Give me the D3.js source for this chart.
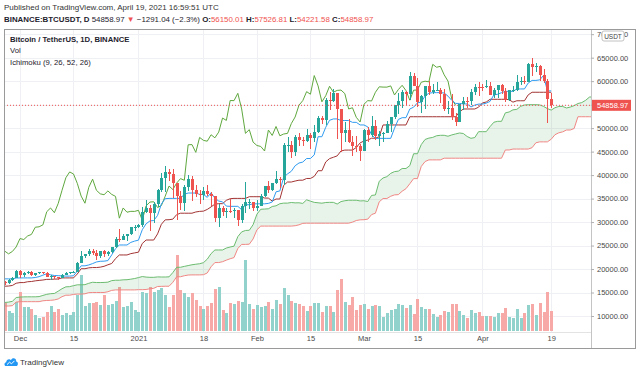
<!DOCTYPE html>
<meta charset="utf-8">
<style>
body { margin: 0; background: #fff; }
svg text { font-family: "Liberation Sans", Arial, sans-serif; }
.axis .domain { display: none; }
.axis text { fill: #4a4a4a; font-size: 7.5px; }
.axis line { stroke: #b0b0b0; }
</style>
<svg id="chart" width="640" height="372"></svg>
<script src="https://d3js.org/d3.v7.min.js"></script>
<script>

// daily bars, BINANCE:BTCUSDT, first bar 2020-11-27
var firstDay = Date.UTC(2020, 10, 27);
var dayMs = 864e5;

var openP = [
  17150,17130,17720,18180,19625,18800,19200,19440,18700,19150,
  19360,19170,18320,18550,18250,18040,18800,19170,19270,19430,
  21340,22800,23130,23860,23480,22730,23820,23240,23730,24700,
  26490,26280,27040,27370,28900,28990,29410,32200,33000,31990,
  33950,36770,39430,40670,40240,38240,35540,34010,37390,39140,
  36770,36010,35820,36630,35890,35470,30830,33000,32100,32280,
  32270,32500,30400,33460,34260,34320,33100,33520,35510,37670,
  36930,38310,39250,38900,46450,46500,44840,48020,47400,47220,
  48590,47940,49160,52150,51640,55890,55850,57410,54090,48890,
  49680,47020,46300,46100,45130,49590,48440,50350,48370,48750,
  48880,50970,52380,54880,55860,57770,57220,61190,59000,55600,
  56900,58910,57650,58030,58100,57350,54080,54340,52300,51300,
  55070,55860,55780,57630,58800,58740,58730,58990,57060,58210,
  59120,57990,55950,58080,58120,59770,59990,59860,63580,62960,
  63160,61340,60010,56150.01
];
var highP = [
  17460,17880,18330,19860,19890,19340,19600,19510,19170,19420,
  19420,19300,18640,18560,18290,18950,19410,19350,19570,21560,
  23800,23280,24170,24300,24100,23840,24100,23800,24790,26870,
  28420,27500,27410,28990,29300,29600,33300,34780,33600,34360,
  36940,40370,41950,41380,41350,38260,36630,37850,40100,39750,
  37950,36850,37470,37850,36420,35600,33830,33460,32940,34880,
  32920,32560,33780,38530,34940,34330,34720,35980,37700,38710,
  38320,40960,39700,46790,48200,47300,48630,48980,48150,49710,
  49000,50620,52620,52550,56370,57770,58350,57530,54180,51370,
  52040,48390,48290,46650,49790,50200,52640,51770,49450,49200,
  51450,52400,54900,57390,58150,58000,61850,61680,60630,56950,
  58980,60090,59450,59880,58600,58430,55830,57200,53240,55100,
  56640,56570,58400,59370,59800,59490,60200,59800,58500,59290,
  59480,58650,58150,58870,61220,60790,61200,63770,64850,63800,
  63520,62500,60400,57526.81
];
var lowP = [
  16500,16865,17500,18180,18100,18330,18870,18570,18500,18860,
  18900,18200,17650,17910,17570,18020,18700,19000,19050,19290,
  21230,22350,22750,23060,21820,22350,22600,22700,23430,24500,
  25700,26100,25880,27320,28000,28800,28950,31960,28130,29900,
  33290,36300,36500,38720,35110,30420,32530,32380,36700,34410,
  35360,33850,34800,35500,33400,30070,28850,31390,30900,31910,
  30840,29240,29840,31920,32860,32300,32300,33420,35360,36160,
  36570,38130,37350,37990,45000,43730,43990,46250,46200,47050,
  45570,47000,48950,50880,50700,53860,55480,47620,44890,47000,
  46880,44110,45000,43000,45040,47050,48100,47500,46300,47070,
  48880,49270,51850,53000,54270,55000,56080,58960,54600,53270,
  54120,57020,57250,57820,55450,53650,53000,51700,50430,51200,
  53950,54240,54900,57000,56770,57930,58450,56960,56480,56480,
  57300,55470,55700,57600,57880,59200,59370,59840,61000,62020,
  60000,59590,51000,54221.58
];
var closeP = [
  17130,17720,18180,19625,18800,19200,19440,18700,19150,19360,
  19170,18320,18550,18250,18040,18800,19170,19270,19430,21340,
  22800,23130,23860,23480,22730,23820,23240,23730,24700,26490,
  26280,27040,27370,28900,28990,29410,32200,33000,31990,33950,
  36770,39430,40670,40240,38240,35540,34010,37390,39140,36770,
  36010,35820,36630,35890,35470,30830,33000,32100,32280,32270,
  32500,30400,33460,34260,34320,33100,33520,35510,37670,36930,
  38310,39250,38900,46450,46500,44840,48020,47400,47220,48590,
  47940,49160,52150,51640,55890,55850,57410,54090,48890,49680,
  47020,46300,46100,45130,49590,48440,50350,48370,48750,48880,
  50970,52380,54880,55860,57770,57220,61190,59000,55600,56900,
  58910,57650,58030,58100,57350,54080,54340,52300,51300,55070,
  55860,55780,57630,58800,58740,58730,58990,57060,58210,59120,
  57990,55950,58080,58120,59770,59990,59860,63580,62960,63160,
  61340,60010,56150,54858.97
];
// volume, thousand BTC
var volumeK = [
  90,66,57,95,128,79,77,70,52,41,
  47,63,81,63,70,52,57,52,63,117,
  182,81,90,90,95,85,117,85,88,99,
  144,79,81,95,68,63,128,125,144,128,
  133,139,117,79,117,247,133,125,111,122,
  101,81,70,81,90,135,144,68,60,92,
  87,98,95,231,88,72,85,79,81,94,
  70,101,88,139,117,99,92,88,81,65,
  81,92,90,63,81,81,63,133,168,94,
  85,112,68,85,87,70,81,85,81,47,
  57,68,73,87,85,76,85,55,104,79,
  72,70,55,47,51,65,62,87,88,65,
  52,41,68,57,63,49,49,49,44,57,
  57,74,47,42,72,42,57,85,87,52,
  92,62,126,65
];

// Ichimoku (9, 26, 52, 26), same bars as above
var conversionLine = [
  17905,17905,17905,18095,18110,18110,18110,18110,18195,18378,
  18695,18995,18770,18625,18585,18540,18495,18495,18570,19565,
  20685,20685,20870,21160,21500,21650,21675,21795,23010,24345,
  25120,25120,25120,25670,25950,26150,28365,29640,30240,30330,
  31410,33845,34975,35040,35040,35040,35040,35925,36185,36185,
  36185,35900,35885,35260,36240,35085,34475,34300,33400,33350,
  33350,33350,32635,33690,33690,33885,33885,33885,33885,33975,
  34275,36440,36630,39545,40250,40810,41995,42570,42775,43530,
  43530,44305,48175,48175,50180,51670,51960,51960,51620,51620,
  51620,51230,51230,50675,50675,50265,48590,47820,47820,47820,
  47820,47820,49970,51845,52225,52225,54075,54460,55365,55560,
  56850,57425,57560,57560,57560,57475,56815,55895,55260,55260,
  55155,55155,54515,54900,55115,55115,55315,55700,57075,57220,
  57550,57835,57835,57835,58345,58345,58345,59620,60160,60160,
  60275,61225,57925,57925
];
var baseLine = [
  16340,16380,16500,16975,17115,17115,17295,17345,17485,17580,
  17665,17800,17800,17845,17880,18110,18110,18110,18110,18945,
  20065,20065,20250,20315,20315,20400,20583,20900,21180,22220,
  22995,22995,22995,23280,23435,23585,25435,26175,26175,26175,
  27480,29535,30475,30500,30620,31590,31885,31885,31885,31885,
  32150,32275,32325,32690,33225,33825,33915,33915,34635,34975,
  35040,35040,35040,35040,35400,35400,35400,35400,35115,35100,
  34475,34905,34905,37820,38525,38525,38740,38915,38915,39280,
  39280,39735,40930,40930,42805,43505,43795,44095,45135,45325,
  45325,45325,45885,46855,47255,47460,47850,47850,48170,50675,
  50675,50675,50675,50675,50675,50675,52425,52425,52425,52425,
  52425,52425,52425,52425,52425,52425,52425,52425,52425,53445,
  54075,54075,54075,54075,54460,55365,55560,56140,56140,56140,
  56140,56140,56055,55530,55825,55825,55825,57100,57640,57640,
  57640,57640,57640,57640
];
// leading spans as plotted, from the first bar onward (runs 12 days past the last bar)
var leadA = [
  12878,12955,13123,13920,14030,14070,14085,14085,14085,14135,
  14380,14613,14748,14798,15285,15810,16205,16253,16460,16638,
  16638,16675,16963,17180,17123,17123,17143,17203,17535,17613,
  17613,17703,17728,17840,17979,18180,18398,18285,18235,18233,
  18325,18303,18303,18340,19255,20375,20375,20560,20738,20908,
  21025,21129,21348,22095,23283,24058,24058,24058,24475,24693,
  24868,26900,27908,28208,28253,29445,31690,32725,32770,32830,
  33315,33463,33905,34035,34035,34168,34088,34105,33975,34733,
  34455,34195,34108,34018,34163,34195,34195,33838,34365,34545,
  34643,34643,34643,34500,34538,34375,35673,35768,38683,39388,
  39668,40368,40743,40845,41405,41405,42020,44553,44553,46493,
  47588,47878,48028,48378,48473,48473,48278,48558,48765,48965,
  48863,48220,47835,47995,49248,49248,49248,50323,51260,51450,
  51450,53250,53443,53895,53993,54638,54925,54993,54993,54993,
  54950,54620,54160,53843,54353,54615,54615,54295,54488,54788,
  55240,55438,55920,56608,56680,56845
];
var leadB = [
  12120,12120,12200,12955,13050,13050,13050,13050,13050,13055,
  13240,13310,13340,13425,13625,14115,14425,14425,14590,14665,
  14665,14730,14970,15005,15005,15005,15005,15160,15455,15555,
  15555,15555,15555,15555,15555,15605,15605,15645,15790,15890,
  16285,16305,16335,16335,17170,18360,18360,18575,18720,18750,
  18750,18750,18790,19155,20480,21380,21380,21560,21895,22190,
  22435,24370,25245,25245,25290,26405,28350,29140,29140,29140,
  29140,29140,29140,29140,29140,29140,29225,29408,29725,29760,
  29760,29760,29760,29760,29760,29760,29760,29760,29760,29760,
  29760,29985,30325,30475,30500,30620,31590,31885,34305,35010,
  35010,35490,35790,35840,36570,37105,38160,39250,39250,41845,
  42885,43240,43240,43240,43240,43600,43600,43600,43600,43600,
  43600,43600,43600,43600,43600,43600,43600,43600,43600,43600,
  43600,45350,45350,45545,45545,45545,45545,45545,45845,46885,
  47075,47075,47075,47635,48605,49005,49210,49600,49600,49920,
  52425,52425,52425,52425,52425,52425
];
var laggingShift = 25;

var priceTicks = [10000,15000,20000,25000,30000,35000,40000,45000,50000,55000,60000,65000,70000];
var dateTicks = ["2020-12-01","2020-12-15","2021-01-01","2021-01-18","2021-02-01","2021-02-15","2021-03-01","2021-03-15","2021-04-01","2021-04-19"];
var dateLabels = ["Dec","15","2021","18","Feb","15","Mar","15","Apr","19"];
var lastPrice = 54858.97;

var upColor = "#26a69a", downColor = "#ef5350";

var svg = d3.select("#chart");
var plot = {left: 4, right: 591, top: 29, bottom: 332};

var x = d3.scaleUtc()
    .domain([new Date(firstDay), new Date(Date.UTC(2021, 3, 19))])
    .range([4.7, 551.2]);
var y = d3.scaleLinear().domain([10000, 70000]).range([316, 34.2]);
var yVol = d3.scaleLinear().domain([0, 250]).range([331, 254]);

function dayX(i) { return x(new Date(firstDay + i * dayMs)); }

svg.append("rect").attr("width", 640).attr("height", 372).attr("fill", "#fff");

svg.append("defs").append("clipPath").attr("id", "plotClip")
  .append("rect")
    .attr("x", plot.left).attr("y", plot.top)
    .attr("width", plot.right - plot.left).attr("height", plot.bottom - plot.top);

// grid
var grid = svg.append("g").attr("stroke", "#eef0f3").attr("shape-rendering", "crispEdges");
grid.selectAll("line.h").data(priceTicks).enter().append("line")
    .attr("x1", plot.left).attr("x2", plot.right)
    .attr("y1", function(d) { return Math.round(y(d)) + 0.5; })
    .attr("y2", function(d) { return Math.round(y(d)) + 0.5; });
grid.selectAll("line.v").data(dateTicks).enter().append("line")
    .attr("x1", function(d) { return Math.round(x(new Date(d))) + 0.5; })
    .attr("x2", function(d) { return Math.round(x(new Date(d))) + 0.5; })
    .attr("y1", plot.top).attr("y2", plot.bottom);

var g = svg.append("g").attr("clip-path", "url(#plotClip)");

// volume
g.append("g").attr("shape-rendering", "crispEdges")
  .selectAll("rect")
  .data(volumeK)
  .enter().append("rect")
    .attr("x", function(d, i) { return Math.round(dayX(i)) - 1; })
    .attr("width", 3)
    .attr("y", function(d) { return yVol(d); })
    .attr("height", function(d) { return yVol(0) - yVol(d); })
    .attr("fill", function(d, i) { return closeP[i] >= openP[i] ? "#92d2cc" : "#f7a9a7"; });

// ichimoku cloud
var cloud = leadA.map(function(a, i) { return {i: i, a: a, b: leadB[i]}; });
g.append("path")
    .datum(cloud)
    .attr("fill", "rgba(67,160,71,0.12)")
    .attr("d", d3.area()
      .x(function(d) { return dayX(d.i); })
      .y0(function(d) { return y(d.b); })
      .y1(function(d) { return y(d.a); }));

function drawLine(values, color, offset) {
  g.append("path")
      .datum(values)
      .attr("fill", "none")
      .attr("stroke", color)
      .attr("stroke-width", 1)
      .attr("d", d3.line()
        .x(function(d, i) { return dayX(i + offset); })
        .y(function(d) { return y(d); }));
}
drawLine(leadA, "#6cbc70", 0);
drawLine(leadB, "#f08784", 0);
drawLine(closeP.slice(laggingShift), "#5fa83e", 0);
drawLine(baseLine, "#a33434", 0);
drawLine(conversionLine, "#2f9bf0", 0);

// candles
var candles = g.append("g").attr("shape-rendering", "crispEdges")
  .selectAll("g")
  .data(closeP)
  .enter().append("g")
    .attr("fill", function(d, i) { return d >= openP[i] ? upColor : downColor; })
    .attr("stroke", function(d, i) { return d >= openP[i] ? upColor : downColor; });
candles.append("line")
    .attr("x1", function(d, i) { return Math.round(dayX(i)) + 0.5; })
    .attr("x2", function(d, i) { return Math.round(dayX(i)) + 0.5; })
    .attr("y1", function(d, i) { return y(highP[i]); })
    .attr("y2", function(d, i) { return y(lowP[i]); });
candles.append("rect")
    .attr("stroke", "none")
    .attr("x", function(d, i) { return Math.round(dayX(i)) - 1; })
    .attr("width", 3)
    .attr("y", function(d, i) { return y(Math.max(d, openP[i])); })
    .attr("height", function(d, i) { return Math.max(1, Math.abs(y(d) - y(openP[i]))); });

// last price line
g.append("line")
    .attr("x1", plot.left).attr("x2", plot.right)
    .attr("y1", y(lastPrice)).attr("y2", y(lastPrice))
    .attr("stroke", downColor).attr("stroke-dasharray", "1,2");

// legend inside the pane
var legend = svg.append("g").attr("fill", "#1e222d").attr("font-size", "7.7px");
legend.append("text").attr("x", 10).attr("y", 41.5).attr("font-weight", "bold").text("Bitcoin / TetherUS, 1D, BINANCE");
legend.append("text").attr("x", 10).attr("y", 53).text("Vol");
legend.append("text").attr("x", 10).attr("y", 64.5).text("Ichimoku (9, 26, 52, 26)");

// axes
svg.append("line").attr("x1", plot.left).attr("x2", plot.right)
    .attr("y1", plot.bottom + 0.5).attr("y2", plot.bottom + 0.5).attr("stroke", "#e3e3e3");
svg.append("line").attr("x1", plot.right + 0.5).attr("x2", plot.right + 0.5)
    .attr("y1", plot.top).attr("y2", 348).attr("stroke", "#c4c4c4");

svg.append("g")
    .attr("class", "axis")
    .attr("transform", "translate(" + plot.right + ",0)")
    .call(d3.axisRight(y).tickValues(priceTicks).tickFormat(d3.format(".2f")).tickSize(3).tickPadding(3));

svg.append("g")
    .attr("class", "axis")
    .attr("transform", "translate(0," + plot.bottom + ")")
    .call(d3.axisBottom(x)
      .tickValues(dateTicks.map(function(d) { return new Date(d); }))
      .tickFormat(function(d, i) { return dateLabels[i]; })
      .tickSize(0).tickPadding(4));

// last price badge
svg.append("rect").attr("x", 592).attr("y", y(lastPrice) - 5.5).attr("width", 39).attr("height", 11).attr("fill", downColor);
svg.append("text").attr("x", 597).attr("y", y(lastPrice) + 2.7).attr("fill", "#fff").attr("font-size", "7.5px").text(d3.format(".2f")(lastPrice));

// currency button
svg.append("rect").attr("x", 602).attr("y", 31).attr("width", 22).attr("height", 10).attr("rx", 2)
    .attr("fill", "#fff").attr("stroke", "#c2c2c2");
svg.append("text").attr("x", 613).attr("y", 38.6).attr("text-anchor", "middle")
    .attr("font-size", "6.5px").attr("fill", "#444").text("USDT");

// frame
svg.append("rect").attr("x", 4.5).attr("y", 29.5).attr("width", 631).attr("height", 319)
    .attr("fill", "none").attr("stroke", "#9a9a9a");

// header
svg.append("text").attr("x", 4).attr("y", 10).attr("font-size", "8px").attr("fill", "#333")
    .text("Published on TradingView.com, April 19, 2021 16:59:51 UTC");
var head = svg.append("text").attr("x", 4).attr("y", 21.5).attr("font-size", "7.9px").attr("fill", "#1e222d");
head.append("tspan").attr("font-weight", "bold").text("BINANCE:BTCUSDT, D");
head.append("tspan").text(" 54858.97 ");
head.append("tspan").attr("fill", downColor).text("▼");
head.append("tspan").text(" −1291.04 (−2.3%) ");
[["O:", "56150.01"], ["H:", "57526.81"], ["L:", "54221.58"], ["C:", "54858.97"]].forEach(function(p, k) {
  head.append("tspan").attr("font-weight", "bold").text((k ? " " : "") + p[0]);
  head.append("tspan").attr("fill", downColor).text(p[1]);
});

// logo
var logo = svg.append("g").attr("transform", "translate(4,356)");
logo.append("path")
    .attr("d", "M2,10 C0,10 0,6.5 2.2,6.2 C2.2,3.5 5.5,2.5 7,4.2 C8.2,1.2 12.5,2 12.2,5.4 C14.5,5.6 14.5,10 12,10 Z")
    .attr("fill", "#2196f3");
logo.append("path")
    .attr("d", "M3,8.6 L5.5,6.2 L7.5,7.8 L10.5,4.8")
    .attr("fill", "none").attr("stroke", "#fff").attr("stroke-width", 1);
svg.append("text").attr("x", 20).attr("y", 365).attr("font-size", "8px").attr("fill", "#333").text("TradingView");

</script>
